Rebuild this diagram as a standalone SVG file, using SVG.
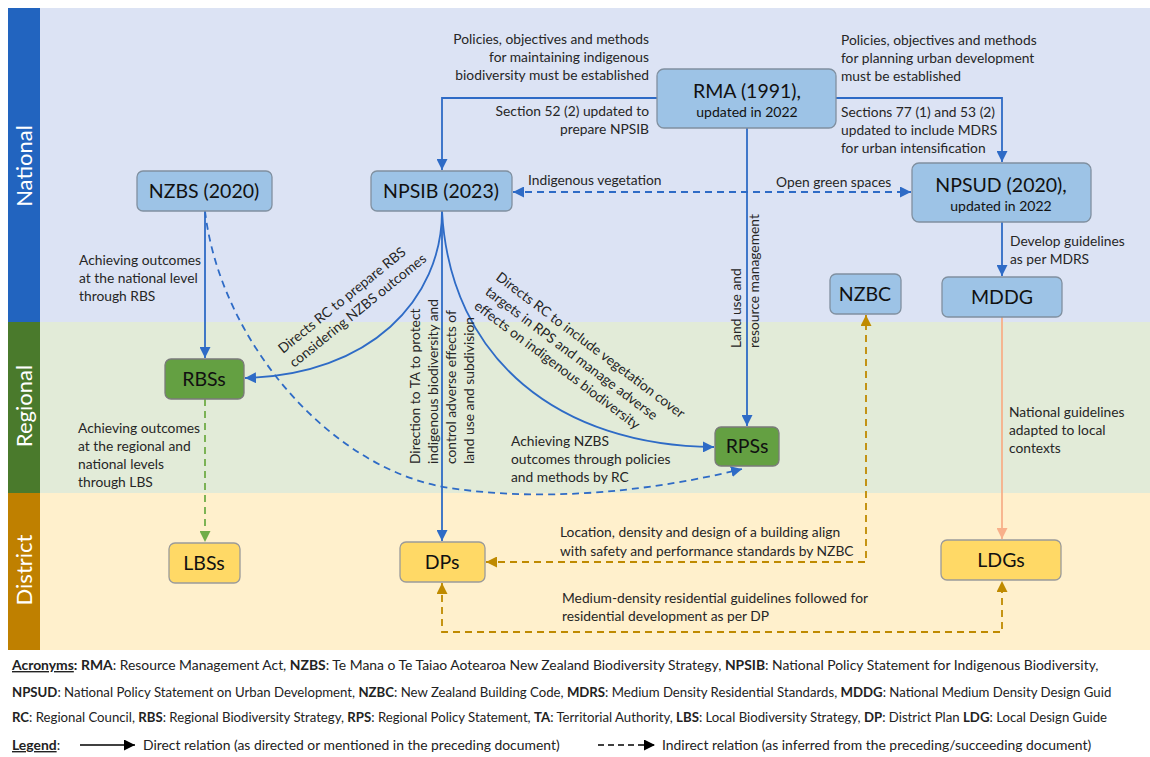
<svg xmlns="http://www.w3.org/2000/svg" width="1150" height="757" viewBox="0 0 1150 757">
<style>
text{font-family:Lato,"Liberation Sans",sans-serif;}
.lbl{font-size:13.8px;fill:#262626;}
.nt{font-size:19.5px;fill:#111;text-anchor:middle;}
.ns{font-size:14px;fill:#111;text-anchor:middle;}
.band{font-size:22px;fill:#fff;text-anchor:middle;}
.nb rect{fill:#9dc3e6;stroke:#8090a0;stroke-width:1.3;}
.ng rect{fill:#64a042;stroke:#7a7a7a;stroke-width:1.3;}
.ny rect{fill:#ffd966;stroke:#9a9a9a;stroke-width:1.3;}
.cb{fill:none;stroke:#2e6bc6;stroke-width:1.8;}
.cbd{fill:none;stroke:#2e6bc6;stroke-width:1.8;stroke-dasharray:7,5;}
.cg{fill:none;stroke:#70ad47;stroke-width:1.8;stroke-dasharray:7,5;}
.co{fill:none;stroke:#bf8a00;stroke-width:1.8;stroke-dasharray:7,5;}
.cs{fill:none;stroke:#f8b08a;stroke-width:1.8;}
.leg{font-size:13.9px;fill:#222;}
.l2{font-size:13.2px;}
.b{font-weight:bold;}
</style>
<defs>
<marker id="mb" viewBox="0 0 10 10" refX="10" refY="5" markerWidth="11" markerHeight="11" markerUnits="userSpaceOnUse" orient="auto-start-reverse"><path d="M0,0 L10,5 L0,10 z" fill="#2e6bc6"/></marker>
<marker id="mg" viewBox="0 0 10 10" refX="10" refY="5" markerWidth="11" markerHeight="11" markerUnits="userSpaceOnUse" orient="auto-start-reverse"><path d="M0,0 L10,5 L0,10 z" fill="#70ad47"/></marker>
<marker id="mo" viewBox="0 0 10 10" refX="10" refY="5" markerWidth="11" markerHeight="11" markerUnits="userSpaceOnUse" orient="auto-start-reverse"><path d="M0,0 L10,5 L0,10 z" fill="#bf8a00"/></marker>
<marker id="ms" viewBox="0 0 10 10" refX="10" refY="5" markerWidth="11" markerHeight="11" markerUnits="userSpaceOnUse" orient="auto-start-reverse"><path d="M0,0 L10,5 L0,10 z" fill="#f8b08a"/></marker>
<marker id="mk" viewBox="0 0 10 10" refX="10" refY="5" markerWidth="11" markerHeight="11" markerUnits="userSpaceOnUse" orient="auto"><path d="M0,0 L10,5 L0,10 z" fill="#000"/></marker>
</defs>
<rect width="1150" height="757" fill="#fff"/>
<g id="bands">
<rect x="40" y="8" width="1110" height="314" fill="#dce3f4"/>
<rect x="40" y="322" width="1110" height="171" fill="#e2ebd8"/>
<rect x="40" y="493" width="1110" height="157" fill="#fff0cc"/>
<rect x="8" y="8" width="32" height="314" fill="#2264bf"/>
<rect x="8" y="322" width="32" height="171" fill="#4a7a2c"/>
<rect x="8" y="493" width="32" height="157" fill="#bf8000"/>
<text class="band" transform="translate(32,166) rotate(-90)">National</text>
<text class="band" transform="translate(32,406) rotate(-90)">Regional</text>
<text class="band" transform="translate(32,570) rotate(-90)">District</text>
</g>
<g id="connectors">
<path class="cb" d="M657,98 H442 V170" marker-end="url(#mb)"/>
<path class="cb" d="M836,98 H1002 V162" marker-end="url(#mb)"/>
<path class="cb" d="M747,128 V426" marker-end="url(#mb)"/>
<path class="cbd" d="M513,192 H911" marker-start="url(#mb)" marker-end="url(#mb)"/>
<path class="cb" d="M205,211 V358" marker-end="url(#mb)"/>
<path class="cbd" d="M205,211 C220,340 330,470 450,488 S690,482 742,469" marker-end="url(#mb)"/>
<path class="cb" d="M442,211 C442,300 370,375 245,378" marker-end="url(#mb)"/>
<path class="cb" d="M442,211 V541" marker-end="url(#mb)"/>
<path class="cb" d="M442,211 C450,360 560,446 714,447" marker-end="url(#mb)"/>
<path class="cg" d="M205,399 V542" marker-end="url(#mg)"/>
<path class="cb" d="M1002,222 V276" marker-end="url(#mb)"/>
<path class="cs" d="M1002,317 V539" marker-end="url(#ms)"/>
<path class="co" d="M486,562 H866 V315" marker-start="url(#mo)" marker-end="url(#mo)"/>
<path class="co" d="M442,583 V632 H1002 V581" marker-start="url(#mo)" marker-end="url(#mo)"/>
</g>
<g id="labels" class="lbl">
<text text-anchor="end"><tspan x="649" y="44">Policies, objectives and methods</tspan><tspan x="649" y="62">for maintaining indigenous</tspan><tspan x="649" y="80">biodiversity must be established</tspan></text>
<text text-anchor="end"><tspan x="649" y="116">Section 52 (2) updated to</tspan><tspan x="649" y="134">prepare NPSIB</tspan></text>
<text><tspan x="841" y="45">Policies, objectives and methods</tspan><tspan x="841" y="63">for planning urban development</tspan><tspan x="841" y="81">must be established</tspan></text>
<text><tspan x="841" y="117">Sections 77 (1) and 53 (2)</tspan><tspan x="841" y="135">updated to include MDRS</tspan><tspan x="841" y="153">for urban intensification</tspan></text>
<text x="528" y="185">Indigenous vegetation</text>
<text x="776" y="187">Open green spaces</text>
<text><tspan x="1010" y="246">Develop guidelines</tspan><tspan x="1010" y="264">as per MDRS</tspan></text>
<text><tspan x="79" y="265">Achieving outcomes</tspan><tspan x="79" y="283">at the national level</tspan><tspan x="79" y="301">through RBS</tspan></text>
<text><tspan x="78" y="433">Achieving outcomes</tspan><tspan x="78" y="451">at the regional and</tspan><tspan x="78" y="469">national levels</tspan><tspan x="78" y="487">through LBS</tspan></text>
<text transform="translate(741,348) rotate(-90)"><tspan x="0" y="0">Land use and</tspan><tspan x="0" y="18">resource management</tspan></text>
<text transform="translate(420,464) rotate(-90)"><tspan x="0" y="0">Direction to TA to protect</tspan><tspan x="0" y="18">indigenous biodiversity and</tspan><tspan x="0" y="36">control adverse effects of</tspan><tspan x="0" y="54">land use and subdivision</tspan></text>
<text transform="translate(283,354) rotate(-39)"><tspan x="0" y="0">Directs RC to prepare RBS</tspan><tspan x="0" y="18">considering NZBS outcomes</tspan></text>
<text transform="translate(495,279) rotate(37)"><tspan x="0" y="0">Directs RC to include vegetation cover</tspan><tspan x="0" y="18">targets in RPS and manage adverse</tspan><tspan x="0" y="36">effects on indigenous biodiversity</tspan></text>
<text><tspan x="511" y="446">Achieving NZBS</tspan><tspan x="511" y="464">outcomes through policies</tspan><tspan x="511" y="482">and methods by RC</tspan></text>
<text><tspan x="1009" y="417">National guidelines</tspan><tspan x="1009" y="435">adapted to local</tspan><tspan x="1009" y="453">contexts</tspan></text>
<text><tspan x="560" y="537">Location, density and design of a building align</tspan><tspan x="560" y="556">with safety and performance standards by NZBC</tspan></text>
<text><tspan x="562" y="603">Medium-density residential guidelines followed for</tspan><tspan x="562" y="621">residential development as per DP</tspan></text>
</g>
<g id="RMA" class="nb"><rect x="657" y="69" width="179" height="59" rx="7"/><text class="nt" x="747" y="98">RMA (1991),</text><text class="ns" x="747" y="117">updated in 2022</text></g>
<g id="NZBS" class="nb"><rect x="137" y="171" width="135" height="40" rx="6"/><text class="nt" x="204" y="198">NZBS (2020)</text></g>
<g id="NPSIB" class="nb"><rect x="371" y="171" width="141" height="40" rx="6"/><text class="nt" x="441" y="198">NPSIB (2023)</text></g>
<g id="NPSUD" class="nb"><rect x="912" y="163" width="179" height="59" rx="7"/><text class="nt" x="1001" y="192">NPSUD (2020),</text><text class="ns" x="1001" y="211">updated in 2022</text></g>
<g id="NZBC" class="nb"><rect x="830" y="274" width="71" height="40" rx="6"/><text class="nt" x="865" y="301">NZBC</text></g>
<g id="MDDG" class="nb"><rect x="942" y="277" width="120" height="40" rx="6"/><text class="nt" x="1002" y="304">MDDG</text></g>
<g id="RBSs" class="ng"><rect x="165" y="359" width="79" height="40" rx="6"/><text class="nt" x="204" y="386">RBSs</text></g>
<g id="RPSs" class="ng"><rect x="715" y="427" width="64" height="39" rx="6"/><text class="nt" x="747" y="453">RPSs</text></g>
<g id="LBSs" class="ny"><rect x="169" y="543" width="71" height="40" rx="6"/><text class="nt" x="204" y="570">LBSs</text></g>
<g id="DPs" class="ny"><rect x="400" y="542" width="85" height="40" rx="6"/><text class="nt" x="442" y="569">DPs</text></g>
<g id="LDGs" class="ny"><rect x="941" y="540" width="120" height="40" rx="6"/><text class="nt" x="1001" y="567">LDGs</text></g>
<g id="legend" class="leg">
<text x="12" y="670"><tspan class="b" text-decoration="underline">Acronyms</tspan><tspan class="b">:</tspan> <tspan class="b">RMA</tspan>: Resource Management Act, <tspan class="b">NZBS</tspan>: Te Mana o Te Taiao Aotearoa New Zealand Biodiversity Strategy, <tspan class="b">NPSIB</tspan>: National Policy Statement for Indigenous Biodiversity,</text>
<text class="l2" x="12" y="697"><tspan class="b">NPSUD</tspan>: National Policy Statement on Urban Development, <tspan class="b">NZBC</tspan>: New Zealand Building Code, <tspan class="b">MDRS</tspan>: Medium Density Residential Standards, <tspan class="b">MDDG</tspan>: National Medium Density Design Guid</text>
<text class="l2" x="12" y="722"><tspan class="b">RC</tspan>: Regional Council, <tspan class="b">RBS</tspan>: Regional Biodiversity Strategy, <tspan class="b">RPS</tspan>: Regional Policy Statement, <tspan class="b">TA</tspan>: Territorial Authority, <tspan class="b">LBS</tspan>: Local Biodiversity Strategy, <tspan class="b">DP</tspan>: District Plan <tspan class="b">LDG</tspan>: Local Design Guide</text>
<text x="12" y="750"><tspan class="b" text-decoration="underline">Legend</tspan>:</text>
<path d="M80,745 H135" stroke="#000" stroke-width="1.5" marker-end="url(#mk)"/>
<text x="143" y="750">Direct relation (as directed or mentioned in the preceding document)</text>
<path d="M598,745 H655" stroke="#000" stroke-width="1.5" stroke-dasharray="6,4" marker-end="url(#mk)"/>
<text x="662" y="750">Indirect relation (as inferred from the preceding/succeeding document)</text>
</g>
</svg>
